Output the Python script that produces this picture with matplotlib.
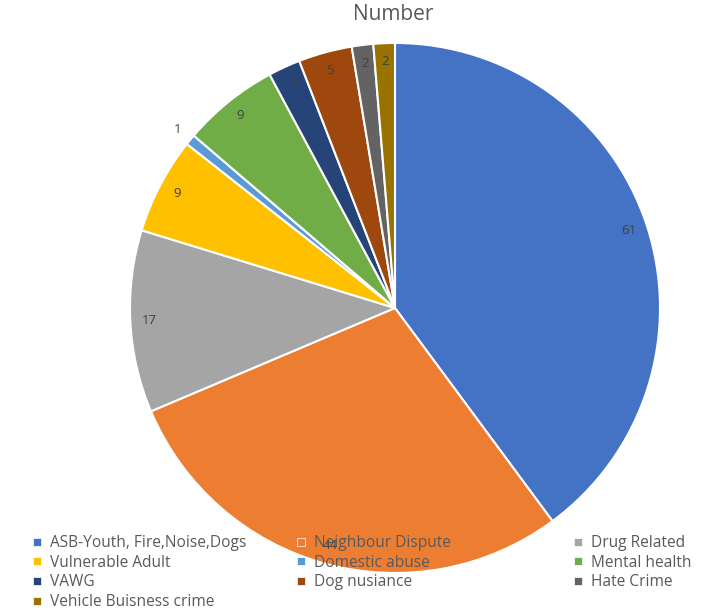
import numpy as np
import matplotlib
matplotlib.use('Agg')
import matplotlib.pyplot as plt
from matplotlib.lines import Line2D

categories = ['ASB-Youth, Fire,Noise,Dogs', 'Neighbour Dispute', 'Drug Related',
              'Vulnerable Adult', 'Domestic abuse', 'Mental health',
              'VAWG', 'Dog nusiance', 'Hate Crime', 'Vehicle Buisness crime']
values = [61, 44, 17, 9, 1, 9, 3, 5, 2, 2]
colors = ['#4472C4', '#ED7D31', '#A5A5A5', '#FFC000', '#5B9BD5', '#70AD47',
          '#264478', '#9E480E', '#636363', '#997300']

plt.rcParams['font.family'] = ['Open Sans', 'DejaVu Sans']

fig = plt.figure(figsize=(7.05, 6.12), dpi=100)
ax = fig.add_axes([130 / 705, 39 / 612, 530 / 705, 530 / 612])

wedges, _ = ax.pie(values, colors=colors, startangle=90, counterclock=False,
                   wedgeprops=dict(edgecolor='white', linewidth=1.5))
ax.set_xlim(-1, 1)
ax.set_ylim(-1, 1)

# data labels near the outer edge, small slices just outside
for w, v in zip(wedges, values):
    ang = np.deg2rad((w.theta1 + w.theta2) / 2)
    r = 1.06 if v < 2 else 0.93
    ax.text(r * np.cos(ang), r * np.sin(ang), str(v), ha='center', va='center',
            fontsize=9.5, color='#404040')

fig.text(393 / 705, 1 - 15 / 612, 'Number', ha='center', va='center',
         fontsize=15, color='#595959')

# legend in three columns, row-major like the original
cols = [[0, 3, 6, 9], [1, 4, 7], [2, 5, 8]]
xs = [31, 295, 572]
for xpos, idx in zip(xs, cols):
    handles = [Line2D([], [], marker='s', linestyle='none', markersize=6,
                      markerfacecolor=colors[i], markeredgecolor='white',
                      markeredgewidth=0.5) for i in idx]
    leg = fig.legend(handles, [categories[i] for i in idx], loc='upper left',
                     bbox_to_anchor=(xpos / 705, 1 - 535 / 612), frameon=False,
                     borderpad=0, borderaxespad=0, handlelength=0.8,
                     handletextpad=0.4, labelspacing=0.24, fontsize=11.2,
                     labelcolor='#595959')

fig.savefig('out.png', dpi=100)
